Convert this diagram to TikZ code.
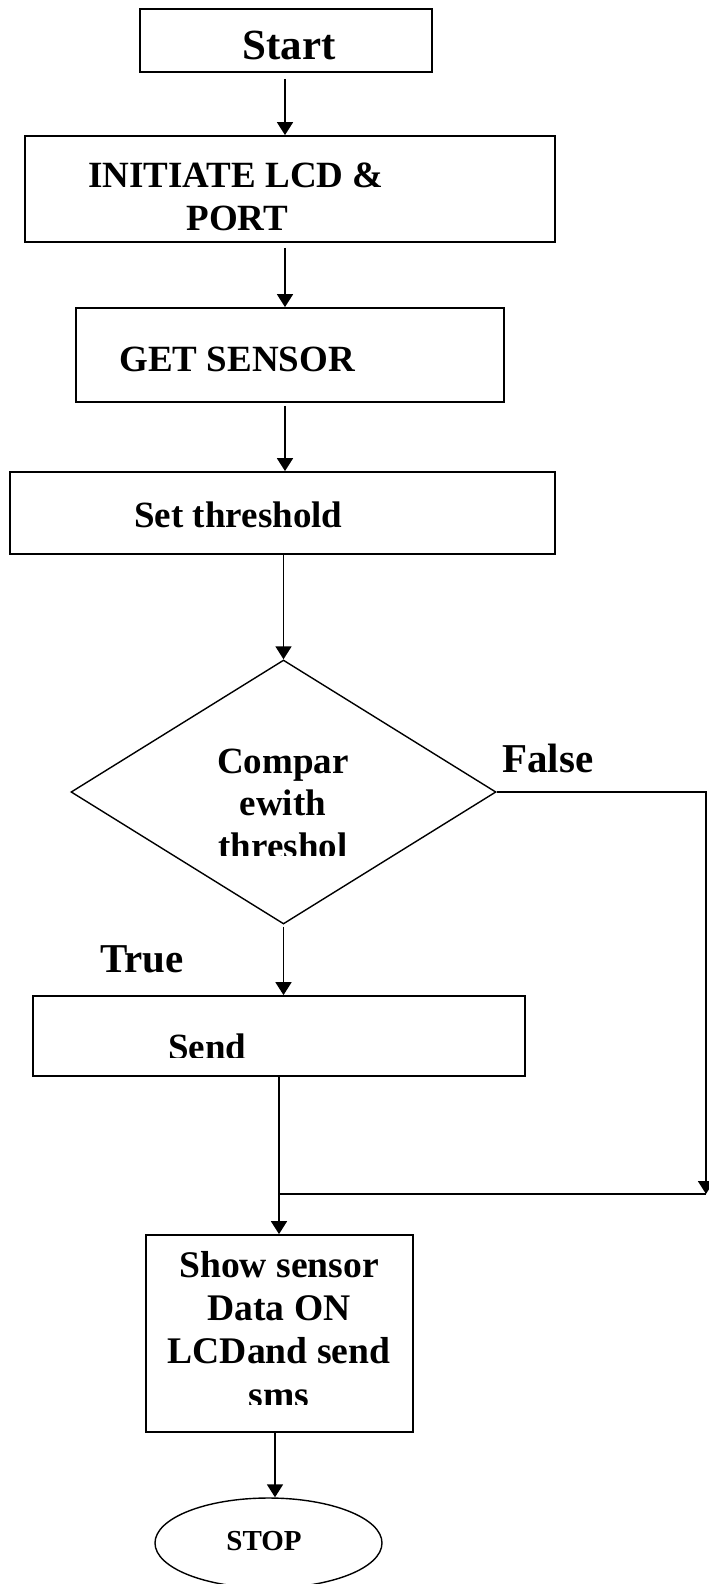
\documentclass[tikz,border=0pt]{standalone}
\usepackage{fontspec}
\setmainfont{Liberation Serif}
\usetikzlibrary{shapes.geometric,arrows.meta}
\tikzset{
  box/.style={draw, line width=0.9pt, rectangle, inner sep=0pt},
  dia/.style={draw, line width=0.7pt, diamond, inner sep=0pt},
  ell/.style={draw, line width=0.7pt, ellipse, inner sep=0pt},
  txt/.style={inner sep=0pt, anchor=base west, font=\bfseries\fontsize{18.5pt}{21pt}\selectfont},
  ctxt/.style={txt, anchor=base},
  big/.style={txt, font=\bfseries\fontsize{21pt}{24pt}\selectfont},
  arr/.style={line width=0.9pt, -{Triangle[length=6.5pt,width=8pt]}},
  ln/.style={line width=0.9pt}
}
\begin{document}
\begin{tikzpicture}[x=0.5pt,y=-0.5pt]
\useasboundingbox (0,0) rectangle (708,1584);
% boxes
\node[box, minimum width=146pt, minimum height=31.5pt] (start) at (286,40.5) {};
\node[box, minimum width=265pt, minimum height=53pt] (init) at (290,189) {};
\node[box, minimum width=214pt, minimum height=47pt] (get) at (290,355) {};
\node[box, minimum width=272.5pt, minimum height=41pt] (set) at (282.5,513) {};
\node[dia, minimum width=212.5pt, minimum height=132pt] (cmp) at (283.5,792) {};
\node[box, minimum width=246pt, minimum height=40pt] (send) at (279,1036) {};
\node[box, minimum width=133.5pt, minimum height=98.5pt] (show) at (279.5,1333.5) {};
\node[ell, minimum width=113.5pt, minimum height=45pt] (stop) at (268.5,1543) {};
% texts
\node[big, font=\bfseries\fontsize{21.5pt}{24pt}\selectfont] (tstart) at (242,60) {Start};
\node[txt] (tinit1) at (88,187) {INITIATE LCD \&};
\node[txt] (tinit2) at (186,230) {PORT};
\node[txt] (tget) at (119,371) {GET SENSOR};
\node[txt] (tset) at (134,527) {Set threshold};
\node[ctxt] (tc1) at (283,773) {Compar};
\node[ctxt] (tc2) at (283,815) {ewith};
\begin{scope}
\clip (150,820) rectangle (420,855);
\node[ctxt] (tc3) at (283,858) {threshol};
\end{scope}
\node[big, font=\bfseries\fontsize{20.5pt}{24pt}\selectfont] (tfalse) at (502,772) {False};
\node[big, font=\bfseries\fontsize{20.5pt}{24pt}\selectfont] (ttrue) at (100,972) {True};
\begin{scope}
\clip (120,1010) rectangle (300,1057);
\node[txt] (tsend) at (168,1059) {Send};
\end{scope}
\node[ctxt, font=\bfseries\fontsize{18.8pt}{21pt}\selectfont] (ts1) at (279,1277) {Show sensor};
\node[ctxt, font=\bfseries\fontsize{18.8pt}{21pt}\selectfont] (ts2) at (279,1320) {Data ON};
\node[ctxt, font=\bfseries\fontsize{18.8pt}{21pt}\selectfont] (ts3) at (279,1363) {LCDand send};
\begin{scope}
\clip (160,1370) rectangle (400,1404);
\node[ctxt, font=\bfseries\fontsize{18.8pt}{21pt}\selectfont] (ts4) at (279,1407) {sms};
\end{scope}
\node[ctxt, font=\bfseries\fontsize{14.5pt}{17pt}\selectfont] (tstop) at (264,1550) {STOP};
% connector helpers
\coordinate (c) at (285,0);
\coordinate (a5) at (275,0);
\coordinate (fr) at (706,1194);
% connectors
\draw[arr, shorten <=3pt] (start.south -| c) -- (init.north -| c);
\draw[arr, shorten <=2.5pt] (init.south -| c) -- (get.north -| c);
\draw[arr, shorten <=1.5pt] (get.south -| c) -- (set.north -| c);
\draw[arr] (set.south -| cmp.north) -- (cmp.north);
\draw[arr, shorten <=1pt] (cmp.south) -- (send.north -| cmp.south);
\draw[arr] (cmp.east) -| (fr);
\draw[ln] (fr) -- (send.south |- fr);
\draw[arr] (send.south) -- (send.south |- show.north);
\draw[arr] (show.south -| a5) -- (stop.north -| a5);
\end{tikzpicture}
\end{document}
